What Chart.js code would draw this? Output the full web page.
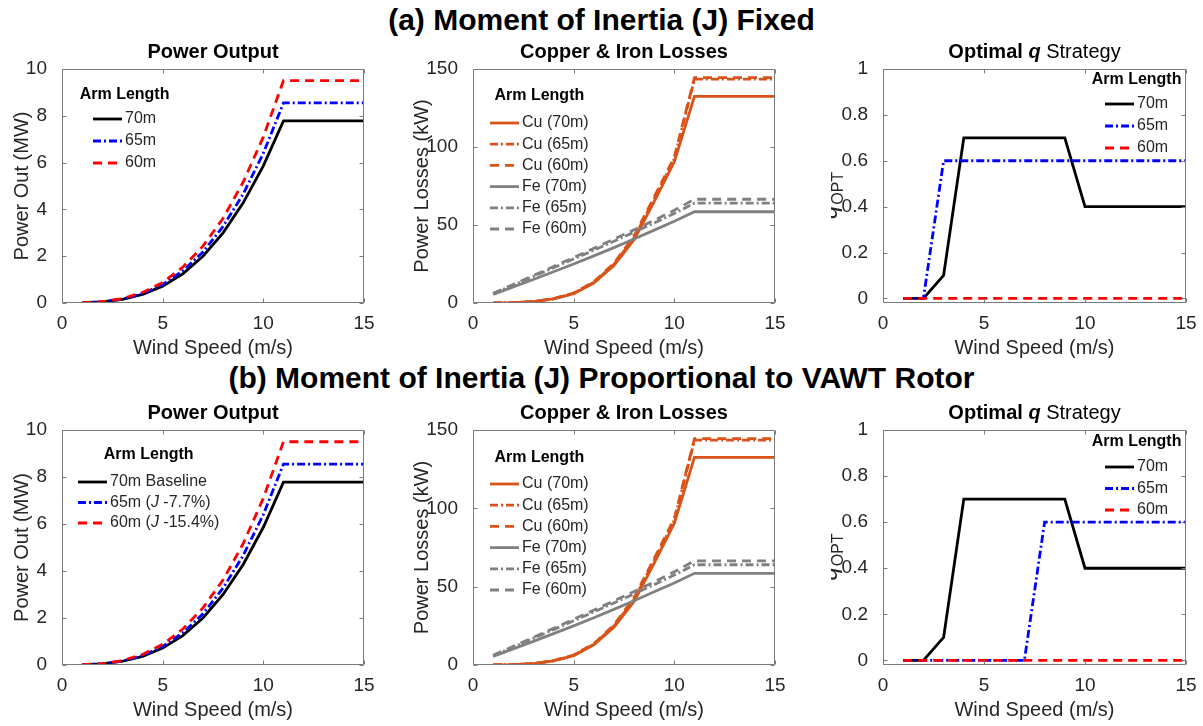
<!DOCTYPE html>
<html>
<head>
<meta charset="utf-8">
<title>VAWT arm length study</title>
<script src="https://cdn.jsdelivr.net/npm/chart.js@4.4.1/dist/chart.umd.min.js"></script>
<style>
  html, body { margin: 0; padding: 0; background: #fff; }
  #fig { position: relative; width: 1203px; height: 726px; overflow: hidden; }
  #fig canvas { position: absolute; }
  .mainTitle {
    position: absolute; left: 0; width: 1203px; text-align: center;
    font: bold 30px "Liberation Sans", Arial, Helvetica, sans-serif;
    line-height: 34px; color: #000; white-space: nowrap;
  }
</style>
</head>
<body>
<div id="fig">
  <div class="mainTitle" style="top:3px">(a) Moment of Inertia (J) Fixed</div>
  <div class="mainTitle" style="top:361px">(b) Moment of Inertia (J) Proportional to VAWT Rotor</div>
</div>
<script>
// wind speed samples (m/s)
const windSpeed = [1, 2, 3, 4, 5, 6, 7, 8, 9, 10, 11, 12, 13, 14, 15];

// power output (MW) per arm length
const power70 = [0.01, 0.05, 0.16, 0.37, 0.72, 1.25, 2.00, 3.00, 4.28, 5.86, 7.78, 7.78, 7.78, 7.78, 7.78];
const power65 = [0.01, 0.05, 0.17, 0.40, 0.79, 1.37, 2.18, 3.27, 4.66, 6.40, 8.55, 8.55, 8.55, 8.55, 8.55];
const power60 = [0.01, 0.06, 0.19, 0.45, 0.88, 1.53, 2.43, 3.62, 5.17, 7.10, 9.50, 9.50, 9.50, 9.50, 9.50];

// copper losses (kW)
const cu70 = [0.1, 0.3, 0.9, 2.6, 6.0, 12.8, 24.0, 40.5, 65.0, 90.5, 132.5, 132.5, 132.5, 132.5, 132.5];
const cu65 = [0.1, 0.3, 0.9, 2.7, 6.2, 13.2, 24.8, 41.8, 66.8, 92.5, 143.5, 143.5, 143.5, 143.5, 143.5];
const cu60 = [0.1, 0.3, 0.9, 2.8, 6.4, 13.6, 25.5, 43.0, 68.0, 93.5, 144.5, 144.5, 144.5, 144.5, 144.5];

// iron losses (kW)
const fe70 = [5.5, 10.3, 15.1, 20.0, 25.0, 30.2, 35.5, 41.0, 46.7, 52.4, 58.5, 58.5, 58.5, 58.5, 58.5];
const fe65 = [6.0, 11.5, 17.0, 22.6, 28.2, 33.9, 39.6, 45.4, 51.3, 57.4, 64.0, 64.0, 64.0, 64.0, 64.0];
const fe60 = [6.2, 11.9, 17.6, 23.4, 29.2, 35.0, 40.9, 46.9, 53.0, 59.5, 66.5, 66.5, 66.5, 66.5, 66.5];

// optimal q
const q70 = [0, 0, 0.1, 0.7, 0.7, 0.7, 0.7, 0.7, 0.7, 0.4, 0.4, 0.4, 0.4, 0.4, 0.4];
const q65Fixed = [0, 0, 0.6, 0.6, 0.6, 0.6, 0.6, 0.6, 0.6, 0.6, 0.6, 0.6, 0.6, 0.6, 0.6];
const q65Prop = [0, 0, 0, 0, 0, 0, 0, 0.6, 0.6, 0.6, 0.6, 0.6, 0.6, 0.6, 0.6];
const q60 = [0, 0, 0, 0, 0, 0, 0, 0, 0, 0, 0, 0, 0, 0, 0];

// tick values
const windTicks = [0, 5, 10, 15];
const powerTicks = [0, 2, 4, 6, 8, 10];
const lossTicks = [0, 50, 100, 150];
const qTicks = [0, 0.2, 0.4, 0.6, 0.8, 1];

const FONT = '"Liberation Sans", Arial, Helvetica, sans-serif';
const INK = '#262626';
const ORANGE = '#D95319';
const GREY = '#808080';
const SOLID = [];
const DASH = [9, 6];
const DASHDOT = [8, 3, 2, 3];

function pts(ys) {
    return windSpeed.map((x, i) => ({ x: x, y: ys[i] }));
}

function line(label, ys, color, dash, order) {
    return {
        label: label,
        data: pts(ys),
        borderColor: color,
        backgroundColor: color,
        borderWidth: 2.8,
        borderDash: dash,
        pointRadius: 0,
        tension: 0,
        fill: false,
        order: order
    };
}

// draws a row of text pieces with their own font styles
function drawRuns(ctx, runs, x, y, size, align) {
    let total = 0;
    const widths = runs.map(r => {
        ctx.font = `${r[1] || ''} ${size}px ${FONT}`;
        const w = ctx.measureText(r[0]).width;
        total += w;
        return w;
    });
    let cx = align === 'center' ? x - total / 2 : x;
    ctx.textBaseline = 'middle';
    ctx.textAlign = 'left';
    runs.forEach((r, i) => {
        ctx.font = `${r[1] || ''} ${size}px ${FONT}`;
        ctx.fillText(r[0], cx, y);
        cx += widths[i];
    });
    return total;
}

function runsWidth(ctx, runs, size) {
    let total = 0;
    runs.forEach(r => {
        ctx.font = `${r[1] || ''} ${size}px ${FONT}`;
        total += ctx.measureText(r[0]).width;
    });
    return total;
}

// box, inward ticks, panel title, legend, q_OPT label
const panelDecor = {
    id: 'panelDecor',
    afterDraw(chart, args, o) {
        const ctx = chart.ctx;
        const a = chart.chartArea;
        const xs = chart.scales.x, ys = chart.scales.y;
        ctx.save();

        ctx.strokeStyle = '#7a7a7a';
        ctx.lineWidth = 1;
        const L = Math.round(a.left) + 0.5, R = Math.round(a.right) - 0.5;
        const T = Math.round(a.top) + 0.5, B = Math.round(a.bottom) - 0.5;
        ctx.beginPath();
        ctx.rect(L, T, R - L, B - T);
        xs.ticks.forEach(t => {
            const px = Math.round(xs.getPixelForValue(t.value)) + 0.5;
            ctx.moveTo(px, B); ctx.lineTo(px, B - 4);
            ctx.moveTo(px, T); ctx.lineTo(px, T + 4);
        });
        ys.ticks.forEach(t => {
            const py = Math.round(ys.getPixelForValue(t.value)) + 0.5;
            ctx.moveTo(L, py); ctx.lineTo(L + 4, py);
            ctx.moveTo(R, py); ctx.lineTo(R - 4, py);
        });
        ctx.stroke();

        ctx.fillStyle = '#000';
        drawRuns(ctx, o.title, (a.left + a.right) / 2, a.top - 17, 20, 'center');

        if (o.qLabel) {
            ctx.save();
            ctx.translate(a.left - 50, (a.top + a.bottom) / 2 + 10);
            ctx.rotate(-Math.PI / 2);
            ctx.fillStyle = INK;
            ctx.textBaseline = 'alphabetic';
            ctx.textAlign = 'left';
            ctx.font = `italic 24px ${FONT}`;
            const qw = ctx.measureText('q').width;
            ctx.font = `16px ${FONT}`;
            const sw = ctx.measureText('OPT').width;
            const x0 = -(qw + sw) / 2;
            ctx.font = `italic 24px ${FONT}`;
            ctx.fillText('q', x0, 4);
            ctx.font = `16px ${FONT}`;
            ctx.fillText('OPT', x0 + qw + 1, 10);
            ctx.restore();
        }

        const lg = o.legend;
        const sx = a.left + lg.x;
        const textX = sx + 32;
        let maxW = 0;
        lg.items.forEach(it => { maxW = Math.max(maxW, runsWidth(ctx, it.runs, 16)); });
        ctx.fillStyle = '#000';
        drawRuns(ctx, [['Arm Length', 'bold']], (sx + textX + maxW) / 2, a.top + lg.titleY, 16, 'center');
        lg.items.forEach((it, i) => {
            const ds = chart.data.datasets[it.ds];
            const y = a.top + lg.rowY + i * lg.rowH;
            ctx.strokeStyle = ds.borderColor;
            ctx.lineWidth = ds.borderWidth;
            ctx.setLineDash(ds.borderDash);
            ctx.beginPath();
            ctx.moveTo(sx, y);
            ctx.lineTo(sx + 29, y);
            ctx.stroke();
            ctx.setLineDash([]);
            ctx.fillStyle = INK;
            drawRuns(ctx, it.runs, textX, y, 16, 'left');
        });
        ctx.restore();
    }
};

function makePanel(p) {
    const top = 45, right = 14, xH = 57;
    const canvas = document.createElement('canvas');
    const w = p.yW + (p.r - p.l) + right;
    const h = top + (p.b - p.t) + xH + 3;
    canvas.width = w;
    canvas.height = h;
    canvas.style.left = (p.l - p.yW) + 'px';
    canvas.style.top = (p.t - top) + 'px';
    document.getElementById('fig').appendChild(canvas);

    const tickFont = { family: FONT, size: 19 };
    new Chart(canvas, {
        type: 'line',
        data: { datasets: p.datasets },
        options: {
            responsive: false,
            animation: false,
            devicePixelRatio: 1,
            layout: { padding: { top: top, right: right, bottom: 3, left: 0 } },
            plugins: {
                legend: { display: false },
                tooltip: { enabled: false },
                panelDecor: { title: p.title, legend: p.legend, qLabel: p.qLabel }
            },
            scales: {
                x: {
                    type: 'linear',
                    min: 0, max: 15,
                    grid: { display: false },
                    border: { display: false },
                    afterBuildTicks: s => { s.ticks = windTicks.map(v => ({ value: v })); },
                    afterFit: s => {
                        s.height = xH;
                        s.paddingLeft = 0;
                        s.paddingRight = 0;
                    },
                    ticks: { color: INK, font: tickFont, padding: 1, maxRotation: 0, callback: v => String(v) },
                    title: { display: true, text: 'Wind Speed (m/s)', color: INK, font: { family: FONT, size: 20 }, padding: 0 }
                },
                y: {
                    type: 'linear',
                    min: p.yMin, max: p.yMax,
                    grid: { display: false },
                    border: { display: false },
                    afterBuildTicks: s => { s.ticks = p.yTicks.map(v => ({ value: v })); },
                    afterFit: s => {
                        s.width = p.yW;
                        s.paddingTop = 0;
                        s.paddingBottom = 0;
                    },
                    ticks: { color: INK, font: tickFont, padding: 7, callback: v => String(v) },
                    title: { display: !p.qLabel, text: p.yLabel || '', color: INK, font: { family: FONT, size: 20 }, padding: 0 }
                }
            }
        },
        plugins: [panelDecor]
    });
}

const powerTitle = [['Power Output', 'bold']];
const lossTitle = [['Copper & Iron Losses', 'bold']];
const qTitle = [['Optimal ', 'bold'], ['q', 'bold italic'], [' Strategy', '']];

function powerSets() {
    return [
        line('70m', power70, '#000000', SOLID, 3),
        line('65m', power65, '#0000FF', DASHDOT, 2),
        line('60m', power60, '#FF0000', DASH, 1)
    ];
}
function lossSets() {
    return [
        line('Cu (70m)', cu70, ORANGE, SOLID, 6),
        line('Cu (65m)', cu65, ORANGE, DASHDOT, 5),
        line('Cu (60m)', cu60, ORANGE, DASH, 4),
        line('Fe (70m)', fe70, GREY, SOLID, 3),
        line('Fe (65m)', fe65, GREY, DASHDOT, 2),
        line('Fe (60m)', fe60, GREY, DASH, 1)
    ];
}
const lossItems = ['Cu (70m)', 'Cu (65m)', 'Cu (60m)', 'Fe (70m)', 'Fe (65m)', 'Fe (60m)']
    .map((t, i) => ({ runs: [[t, '']], ds: i }));
const armItems = ['70m', '65m', '60m'].map((t, i) => ({ runs: [[t, '']], ds: i }));

// (a) inertia fixed
makePanel({
    l: 62, t: 69, r: 364, b: 303, yW: 52,
    yMin: 0, yMax: 10, yTicks: powerTicks, yLabel: 'Power Out (MW)',
    title: powerTitle, datasets: powerSets(),
    legend: { x: 31, titleY: 26, rowY: 50, rowH: 22, items: armItems }
});
makePanel({
    l: 473, t: 69, r: 775, b: 303, yW: 63,
    yMin: 0, yMax: 150, yTicks: lossTicks, yLabel: 'Power Losses (kW)',
    title: lossTitle, datasets: lossSets(),
    legend: { x: 17, titleY: 27, rowY: 54, rowH: 21.2, items: lossItems }
});
makePanel({
    l: 883, t: 69, r: 1186, b: 303, yW: 52, qLabel: true,
    yMin: -0.02, yMax: 1, yTicks: qTicks,
    title: qTitle,
    datasets: [
        line('70m', q70, '#000000', SOLID, 3),
        line('65m', q65Fixed, '#0000FF', DASHDOT, 2),
        line('60m', q60, '#FF0000', DASH, 1)
    ],
    legend: { x: 222, titleY: 11, rowY: 35, rowH: 22, items: armItems }
});

// (b) inertia proportional to rotor
makePanel({
    l: 62, t: 430, r: 364, b: 665, yW: 52,
    yMin: 0, yMax: 10, yTicks: powerTicks, yLabel: 'Power Out (MW)',
    title: powerTitle, datasets: powerSets(),
    legend: {
        x: 16, titleY: 25, rowY: 52, rowH: 20.5,
        items: [
            { runs: [['70m Baseline', '']], ds: 0 },
            { runs: [['65m (', ''], ['J', 'italic'], [' -7.7%)', '']], ds: 1 },
            { runs: [['60m (', ''], ['J', 'italic'], [' -15.4%)', '']], ds: 2 }
        ]
    }
});
makePanel({
    l: 473, t: 430, r: 775, b: 665, yW: 63,
    yMin: 0, yMax: 150, yTicks: lossTicks, yLabel: 'Power Losses (kW)',
    title: lossTitle, datasets: lossSets(),
    legend: { x: 17, titleY: 28, rowY: 54, rowH: 21.2, items: lossItems }
});
makePanel({
    l: 883, t: 430, r: 1186, b: 665, yW: 52, qLabel: true,
    yMin: -0.02, yMax: 1, yTicks: qTicks,
    title: qTitle,
    datasets: [
        line('70m', q70, '#000000', SOLID, 3),
        line('65m', q65Prop, '#0000FF', DASHDOT, 2),
        line('60m', q60, '#FF0000', DASH, 1)
    ],
    legend: { x: 222, titleY: 12, rowY: 37, rowH: 21.5, items: armItems }
});
</script>
</body>
</html>
